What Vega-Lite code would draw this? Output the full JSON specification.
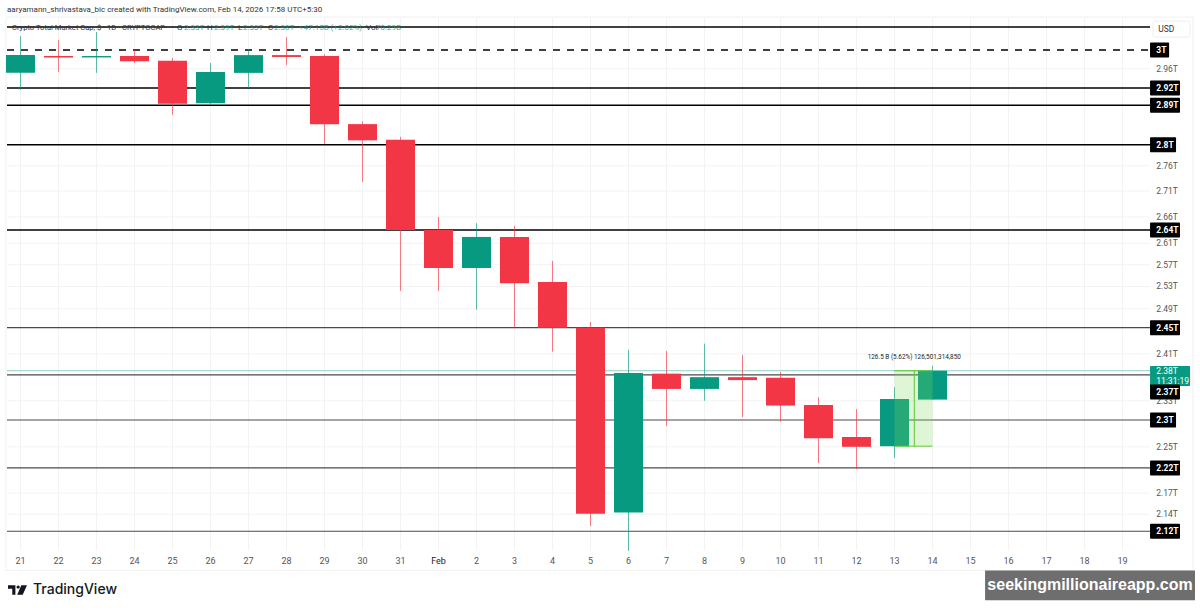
{
  "$schema": "https://vega.github.io/schema/vega-lite/v6.json",
  "width": 1200,
  "height": 610,
  "autosize": {"type": "fit", "contains": "padding"},
  "padding": {"left": 0, "right": 0, "top": 0, "bottom": 0},
  "background": "#ffffff",
  "view": {"stroke": null},
  "config": {"text": {"font": "Roboto"}},
  "datasets": {
    "days": [
      {"date": "2026-01-21T00:00:00Z", "label": "21"}, {"date": "2026-01-22T00:00:00Z", "label": "22"},
      {"date": "2026-01-23T00:00:00Z", "label": "23"}, {"date": "2026-01-24T00:00:00Z", "label": "24"},
      {"date": "2026-01-25T00:00:00Z", "label": "25"}, {"date": "2026-01-26T00:00:00Z", "label": "26"},
      {"date": "2026-01-27T00:00:00Z", "label": "27"}, {"date": "2026-01-28T00:00:00Z", "label": "28"},
      {"date": "2026-01-29T00:00:00Z", "label": "29"}, {"date": "2026-01-30T00:00:00Z", "label": "30"},
      {"date": "2026-01-31T00:00:00Z", "label": "31"}, {"date": "2026-02-01T00:00:00Z", "label": "Feb"},
      {"date": "2026-02-02T00:00:00Z", "label": "2"}, {"date": "2026-02-03T00:00:00Z", "label": "3"},
      {"date": "2026-02-04T00:00:00Z", "label": "4"}, {"date": "2026-02-05T00:00:00Z", "label": "5"},
      {"date": "2026-02-06T00:00:00Z", "label": "6"}, {"date": "2026-02-07T00:00:00Z", "label": "7"},
      {"date": "2026-02-08T00:00:00Z", "label": "8"}, {"date": "2026-02-09T00:00:00Z", "label": "9"},
      {"date": "2026-02-10T00:00:00Z", "label": "10"}, {"date": "2026-02-11T00:00:00Z", "label": "11"},
      {"date": "2026-02-12T00:00:00Z", "label": "12"}, {"date": "2026-02-13T00:00:00Z", "label": "13"},
      {"date": "2026-02-14T00:00:00Z", "label": "14"}, {"date": "2026-02-15T00:00:00Z", "label": "15"},
      {"date": "2026-02-16T00:00:00Z", "label": "16"}, {"date": "2026-02-17T00:00:00Z", "label": "17"},
      {"date": "2026-02-18T00:00:00Z", "label": "18"}, {"date": "2026-02-19T00:00:00Z", "label": "19"}
    ],
    "ticks": [
      {"price": 2.96, "label": "2.96T"}, {"price": 2.76, "label": "2.76T"}, {"price": 2.71, "label": "2.71T"},
      {"price": 2.66, "label": "2.66T"}, {"price": 2.61, "label": "2.61T"}, {"price": 2.57, "label": "2.57T"},
      {"price": 2.53, "label": "2.53T"}, {"price": 2.49, "label": "2.49T"}, {"price": 2.41, "label": "2.41T"},
      {"price": 2.33, "label": "2.33T"}, {"price": 2.254, "label": "2.25T"}, {"price": 2.18, "label": "2.17T"},
      {"price": 2.147, "label": "2.14T"}
    ],
    "levels": [
      {"price": 3.05, "tagPrice": null, "label": ""},
      {"price": 3.0, "tagPrice": 3.0, "label": "3T"},
      {"price": 2.919, "tagPrice": 2.919, "label": "2.92T"},
      {"price": 2.883, "tagPrice": 2.883, "label": "2.89T"},
      {"price": 2.802, "tagPrice": 2.802, "label": "2.8T"},
      {"price": 2.635, "tagPrice": 2.635, "label": "2.64T"},
      {"price": 2.456, "tagPrice": 2.456, "label": "2.45T"},
      {"price": 2.374, "tagPrice": 2.345, "label": "2.37T"},
      {"price": 2.298, "tagPrice": 2.298, "label": "2.3T"},
      {"price": 2.22, "tagPrice": 2.22, "label": "2.22T"},
      {"price": 2.121, "tagPrice": 2.121, "label": "2.12T"}
    ],
    "candles": [
      {"date": "2026-01-21T00:00:00Z", "open": 2.951, "high": 3.03, "low": 2.915, "close": 2.989},
      {"date": "2026-01-22T00:00:00Z", "open": 2.987, "high": 3.022, "low": 2.953, "close": 2.984},
      {"date": "2026-01-23T00:00:00Z", "open": 2.984, "high": 3.039, "low": 2.951, "close": 2.987},
      {"date": "2026-01-24T00:00:00Z", "open": 2.987, "high": 3.0, "low": 2.972, "close": 2.976},
      {"date": "2026-01-25T00:00:00Z", "open": 2.977, "high": 2.983, "low": 2.863, "close": 2.886},
      {"date": "2026-01-26T00:00:00Z", "open": 2.887, "high": 2.972, "low": 2.886, "close": 2.953},
      {"date": "2026-01-27T00:00:00Z", "open": 2.951, "high": 3.002, "low": 2.919, "close": 2.989},
      {"date": "2026-01-28T00:00:00Z", "open": 2.989, "high": 3.028, "low": 2.968, "close": 2.985},
      {"date": "2026-01-29T00:00:00Z", "open": 2.987, "high": 2.991, "low": 2.804, "close": 2.844},
      {"date": "2026-01-30T00:00:00Z", "open": 2.844, "high": 2.85, "low": 2.728, "close": 2.811},
      {"date": "2026-01-31T00:00:00Z", "open": 2.812, "high": 2.818, "low": 2.522, "close": 2.635},
      {"date": "2026-02-01T00:00:00Z", "open": 2.635, "high": 2.66, "low": 2.522, "close": 2.564},
      {"date": "2026-02-02T00:00:00Z", "open": 2.564, "high": 2.648, "low": 2.488, "close": 2.622},
      {"date": "2026-02-03T00:00:00Z", "open": 2.622, "high": 2.643, "low": 2.456, "close": 2.536},
      {"date": "2026-02-04T00:00:00Z", "open": 2.538, "high": 2.577, "low": 2.414, "close": 2.456},
      {"date": "2026-02-05T00:00:00Z", "open": 2.456, "high": 2.466, "low": 2.129, "close": 2.148},
      {"date": "2026-02-06T00:00:00Z", "open": 2.15, "high": 2.417, "low": 2.091, "close": 2.377},
      {"date": "2026-02-07T00:00:00Z", "open": 2.376, "high": 2.415, "low": 2.288, "close": 2.35},
      {"date": "2026-02-08T00:00:00Z", "open": 2.35, "high": 2.428, "low": 2.33, "close": 2.37},
      {"date": "2026-02-09T00:00:00Z", "open": 2.37, "high": 2.408, "low": 2.303, "close": 2.365},
      {"date": "2026-02-10T00:00:00Z", "open": 2.369, "high": 2.379, "low": 2.295, "close": 2.322},
      {"date": "2026-02-11T00:00:00Z", "open": 2.323, "high": 2.336, "low": 2.228, "close": 2.268},
      {"date": "2026-02-12T00:00:00Z", "open": 2.27, "high": 2.316, "low": 2.218, "close": 2.254},
      {"date": "2026-02-13T00:00:00Z", "open": 2.255, "high": 2.353, "low": 2.236, "close": 2.333},
      {"date": "2026-02-14T00:00:00Z", "open": 2.332, "high": 2.389, "low": 2.332, "close": 2.381}
    ]
  },
  "layer": [
    {
      "data": {"values": [{"a": 1}]},
      "mark": {"type": "rect", "fill": "#ffffff", "stroke": "#f0f0f0", "strokeWidth": 1},
      "encoding": {
        "x": {"datum": 1768920600000, "type": "temporal", "axis": null, "scale": {"domain": [1768918358000, 1771624042000], "nice": false}},
        "x2": {"datum": 1771619520000},
        "y": {"datum": 3.072, "type": "quantitative", "axis": null, "scale": {"type": "log", "domain": [2.0112, 3.0989], "nice": false}},
        "y2": {"datum": 2.062}
      }
    },
    {
      "data": {"name": "days"},
      "mark": {"type": "rule", "color": "#f3f3f3", "strokeWidth": 1},
      "encoding": {
        "x": {"field": "date", "type": "temporal"},
        "y": {"datum": 3.07, "type": "quantitative"},
        "y2": {"datum": 2.092}
      }
    },
    {
      "data": {"name": "ticks"},
      "mark": {"type": "rule", "color": "#f3f3f3", "strokeWidth": 1},
      "encoding": {
        "x": {"datum": 1768922880000, "type": "temporal"},
        "x2": {"datum": 1771521840000},
        "y": {"field": "price", "type": "quantitative"}
      }
    },
    {
      "data": {"values": [{"price": 2.381}]},
      "mark": {"type": "rule", "color": "#089981", "strokeWidth": 1, "opacity": 0.45},
      "encoding": {
        "x": {"datum": 1768922880000, "type": "temporal"},
        "x2": {"datum": 1771521840000},
        "y": {"field": "price", "type": "quantitative"}
      }
    },
    {
      "data": {"name": "levels"},
      "transform": [{"filter": "datum.price > 2.5"}],
      "mark": {"type": "rule", "color": "#000000", "strokeWidth": 1.5},
      "encoding": {
        "x": {"datum": 1768922880000, "type": "temporal"},
        "x2": {"datum": 1771521840000},
        "y": {"field": "price", "type": "quantitative"},
        "strokeDash": {"condition": {"test": "datum.label === '3T'", "value": [7, 7]}, "value": [1, 0]}
      }
    },
    {
      "data": {"name": "levels"},
      "transform": [{"filter": "datum.price < 2.5"}],
      "mark": {"type": "rule", "color": "#4a4a4a", "strokeWidth": 1.2},
      "encoding": {
        "x": {"datum": 1768922880000, "type": "temporal"},
        "x2": {"datum": 1771521840000},
        "y": {"field": "price", "type": "quantitative"}
      }
    },
    {
      "data": {"name": "candles"},
      "mark": {"type": "rule", "strokeWidth": 1, "opacity": 0.65},
      "encoding": {
        "x": {"field": "date", "type": "temporal"},
        "y": {"field": "low", "type": "quantitative"},
        "y2": {"field": "high"},
        "color": {"condition": {"test": "datum.close >= datum.open", "value": "#089981"}, "value": "#f23645"}
      }
    },
    {
      "data": {"name": "candles"},
      "mark": {"type": "bar", "size": 29},
      "encoding": {
        "x": {"field": "date", "type": "temporal"},
        "y": {"field": "open", "type": "quantitative"},
        "y2": {"field": "close"},
        "color": {"condition": {"test": "datum.close >= datum.open", "value": "#089981"}, "value": "#f23645"}
      }
    },
    {
      "data": {"values": [{"date": "2026-02-13T00:00:00Z", "end": "2026-02-14T00:00:00Z", "from": 2.255, "to": 2.381}]},
      "mark": {"type": "rect", "fill": "#7ddc5c", "opacity": 0.25},
      "encoding": {
        "x": {"field": "date", "type": "temporal"},
        "x2": {"field": "end"},
        "y": {"field": "from", "type": "quantitative"},
        "y2": {"field": "to"}
      }
    },
    {
      "data": {"values": [{"price": 2.255}, {"price": 2.381}]},
      "mark": {"type": "rule", "color": "#5fc83c", "strokeWidth": 1},
      "encoding": {
        "x": {"datum": 1770940800000, "type": "temporal"},
        "x2": {"datum": 1771027200000},
        "y": {"field": "price", "type": "quantitative"}
      }
    },
    {
      "data": {"values": [{"date": "2026-02-13T12:30:00Z", "from": 2.255, "to": 2.381}]},
      "mark": {"type": "rule", "color": "#5fc83c", "strokeWidth": 1},
      "encoding": {
        "x": {"field": "date", "type": "temporal"},
        "y": {"field": "from", "type": "quantitative"},
        "y2": {"field": "to"}
      }
    },
    {
      "data": {"values": [{"date": "2026-02-13T12:30:00Z", "price": 2.405, "text": "126.5 B (5.62%) 126,501,314,850"}]},
      "mark": {"type": "text", "fontSize": 6.4, "color": "#222222", "align": "center", "baseline": "middle"},
      "encoding": {
        "x": {"field": "date", "type": "temporal"},
        "y": {"field": "price", "type": "quantitative"},
        "text": {"field": "text"}
      }
    },
    {
      "data": {"name": "days"},
      "mark": {"type": "text", "fontSize": 9, "align": "center", "baseline": "middle"},
      "encoding": {
        "x": {"field": "date", "type": "temporal"},
        "y": {"datum": 2.076, "type": "quantitative"},
        "text": {"field": "label"},
        "color": {"condition": {"test": "datum.label === 'Feb'", "value": "#222222"}, "value": "#555555"},
        "fontWeight": {"condition": {"test": "datum.label === 'Feb'", "value": "bold"}, "value": "normal"}
      }
    },
    {
      "data": {"name": "ticks"},
      "mark": {"type": "text", "fontSize": 8.5, "color": "#555555", "align": "left", "baseline": "middle"},
      "encoding": {
        "x": {"datum": 1771535940000, "type": "temporal"},
        "y": {"field": "price", "type": "quantitative"},
        "text": {"field": "label"}
      }
    },
    {
      "data": {"values": [{"price": 2.372}]},
      "mark": {"type": "bar", "size": 20, "color": "#089981", "cornerRadius": 1},
      "encoding": {
        "x": {"datum": 1771521840000, "type": "temporal"},
        "x2": {"datum": 1771612860000},
        "y": {"field": "price", "type": "quantitative"}
      }
    },
    {
      "data": {"values": [{"price": 2.381, "text": "2.38T"}, {"price": 2.363, "text": "11:31:19"}]},
      "mark": {"type": "text", "fontSize": 8.5, "color": "#ffffff", "align": "left", "baseline": "middle"},
      "encoding": {
        "x": {"datum": 1771535940000, "type": "temporal"},
        "y": {"field": "price", "type": "quantitative"},
        "text": {"field": "text"}
      }
    },
    {
      "data": {"name": "levels"},
      "transform": [{"filter": "length(datum.label) === 2"}],
      "mark": {"type": "bar", "size": 15, "color": "#000000", "cornerRadius": 1},
      "encoding": {
        "x": {"datum": 1771521840000, "type": "temporal"},
        "x2": {"datum": 1771565160000},
        "y": {"field": "tagPrice", "type": "quantitative"}
      }
    },
    {
      "data": {"name": "levels"},
      "transform": [{"filter": "length(datum.label) === 4"}],
      "mark": {"type": "bar", "size": 15, "color": "#000000", "cornerRadius": 1},
      "encoding": {
        "x": {"datum": 1771521840000, "type": "temporal"},
        "x2": {"datum": 1771580940000},
        "y": {"field": "tagPrice", "type": "quantitative"}
      }
    },
    {
      "data": {"name": "levels"},
      "transform": [{"filter": "length(datum.label) === 5"}],
      "mark": {"type": "bar", "size": 15, "color": "#000000", "cornerRadius": 1},
      "encoding": {
        "x": {"datum": 1771521840000, "type": "temporal"},
        "x2": {"datum": 1771589940000},
        "y": {"field": "tagPrice", "type": "quantitative"}
      }
    },
    {
      "data": {"name": "levels"},
      "transform": [{"filter": "datum.label !== ''"}],
      "mark": {"type": "text", "fontSize": 8.5, "fontWeight": "bold", "color": "#ffffff", "align": "left", "baseline": "middle"},
      "encoding": {
        "x": {"datum": 1771535940000, "type": "temporal"},
        "y": {"field": "tagPrice", "type": "quantitative"},
        "text": {"field": "label"}
      }
    },
    {
      "data": {"values": [{"a": 1}]},
      "mark": {"type": "rect", "fill": "#ffffff", "stroke": "#eeeeee", "cornerRadius": 2},
      "encoding": {
        "x": {"datum": 1771528560000, "type": "temporal"},
        "x2": {"datum": 1771612860000},
        "y": {"datum": 3.063, "type": "quantitative"},
        "y2": {"datum": 3.028}
      }
    },
    {
      "data": {"values": [
        {"date": "2026-02-19T22:37:00Z", "price": 3.045, "text": "USD"},
        {"date": "2026-01-20T15:28:00Z", "price": 3.088, "text": "aaryamann_shrivastava_bic created with TradingView.com, Feb 14, 2026 17:58 UTC+5:30"}
      ]},
      "mark": {"type": "text", "color": "#333333", "align": "left", "baseline": "middle"},
      "encoding": {
        "x": {"field": "date", "type": "temporal"},
        "y": {"field": "price", "type": "quantitative"},
        "text": {"field": "text"},
        "size": {"condition": {"test": "datum.text === 'USD'", "value": 8.5}, "value": 8}
      }
    },
    {
      "data": {"values": [
        {"date": "2026-01-20T18:38:00Z", "text": "Crypto Total Market Cap, $ · 1D · CRYPTOCAP"},
        {"date": "2026-01-25T02:50:00Z", "text": "O"},
        {"date": "2026-01-25T21:47:00Z", "text": "H"},
        {"date": "2026-01-26T17:22:00Z", "text": "L"},
        {"date": "2026-01-27T12:19:00Z", "text": "C"},
        {"date": "2026-01-30T02:13:00Z", "text": "Vol"}
      ]},
      "mark": {"type": "text", "color": "#333333", "align": "left", "baseline": "middle"},
      "encoding": {
        "x": {"field": "date", "type": "temporal"},
        "y": {"datum": 3.048, "type": "quantitative"},
        "text": {"field": "text"},
        "size": {"condition": {"test": "length(datum.text) > 5", "value": 7.6}, "value": 8}
      }
    },
    {
      "data": {"values": [
        {"date": "2026-01-25T07:16:00Z", "text": "2.33T"},
        {"date": "2026-01-26T02:13:00Z", "text": "2.39T"},
        {"date": "2026-01-26T20:32:00Z", "text": "2.33T"},
        {"date": "2026-01-27T16:06:00Z", "text": "2.38T"},
        {"date": "2026-01-28T07:54:00Z", "text": "+47.15B (+2.02%)"},
        {"date": "2026-01-30T08:32:00Z", "text": "70.29B"}
      ]},
      "mark": {"type": "text", "fontSize": 8, "color": "#089981", "opacity": 0.8, "align": "left", "baseline": "middle"},
      "encoding": {
        "x": {"field": "date", "type": "temporal"},
        "y": {"datum": 3.048, "type": "quantitative"},
        "text": {"field": "text"}
      }
    },
    {
      "data": {"values": [{"date": "2026-01-20T22:06:00Z", "price": 2.033}]},
      "mark": {"type": "point", "filled": true, "size": 361, "color": "#131722", "opacity": 1, "shape": "M-1,-.5H-.22V.5H-.55V-.14H-1ZM.4,-.5H1L.55,.5H-.03ZM-.1,-.32A.17,.17 0 1 1 .24,-.32A.17,.17 0 1 1 -.1,-.32Z"},
      "encoding": {
        "x": {"field": "date", "type": "temporal"},
        "y": {"field": "price", "type": "quantitative"}
      }
    },
    {
      "data": {"values": [{"date": "2026-01-21T07:54:00Z", "price": 2.033, "text": "TradingView"}]},
      "mark": {"type": "text", "font": "Inter", "fontSize": 14, "fontWeight": 500, "color": "#131722", "align": "left", "baseline": "middle"},
      "encoding": {
        "x": {"field": "date", "type": "temporal"},
        "y": {"field": "price", "type": "quantitative"},
        "text": {"field": "text"}
      }
    },
    {
      "data": {"values": [{"a": 1}]},
      "mark": {"type": "rect", "fill": "#6e6e6e"},
      "encoding": {
        "x": {"datum": 1771146720000, "type": "temporal"},
        "x2": {"datum": 1771624040000},
        "y": {"datum": 2.062, "type": "quantitative"},
        "y2": {"datum": 2.018}
      }
    },
    {
      "data": {"values": [{"date": "2026-02-18T03:30:00Z", "price": 2.04, "text": "seekingmillionaireapp.com"}]},
      "mark": {"type": "text", "font": "Liberation Sans", "fontSize": 16, "fontWeight": "bold", "color": "#ffffff", "align": "center", "baseline": "middle"},
      "encoding": {
        "x": {"field": "date", "type": "temporal"},
        "y": {"field": "price", "type": "quantitative"},
        "text": {"field": "text"}
      }
    }
  ]
}
